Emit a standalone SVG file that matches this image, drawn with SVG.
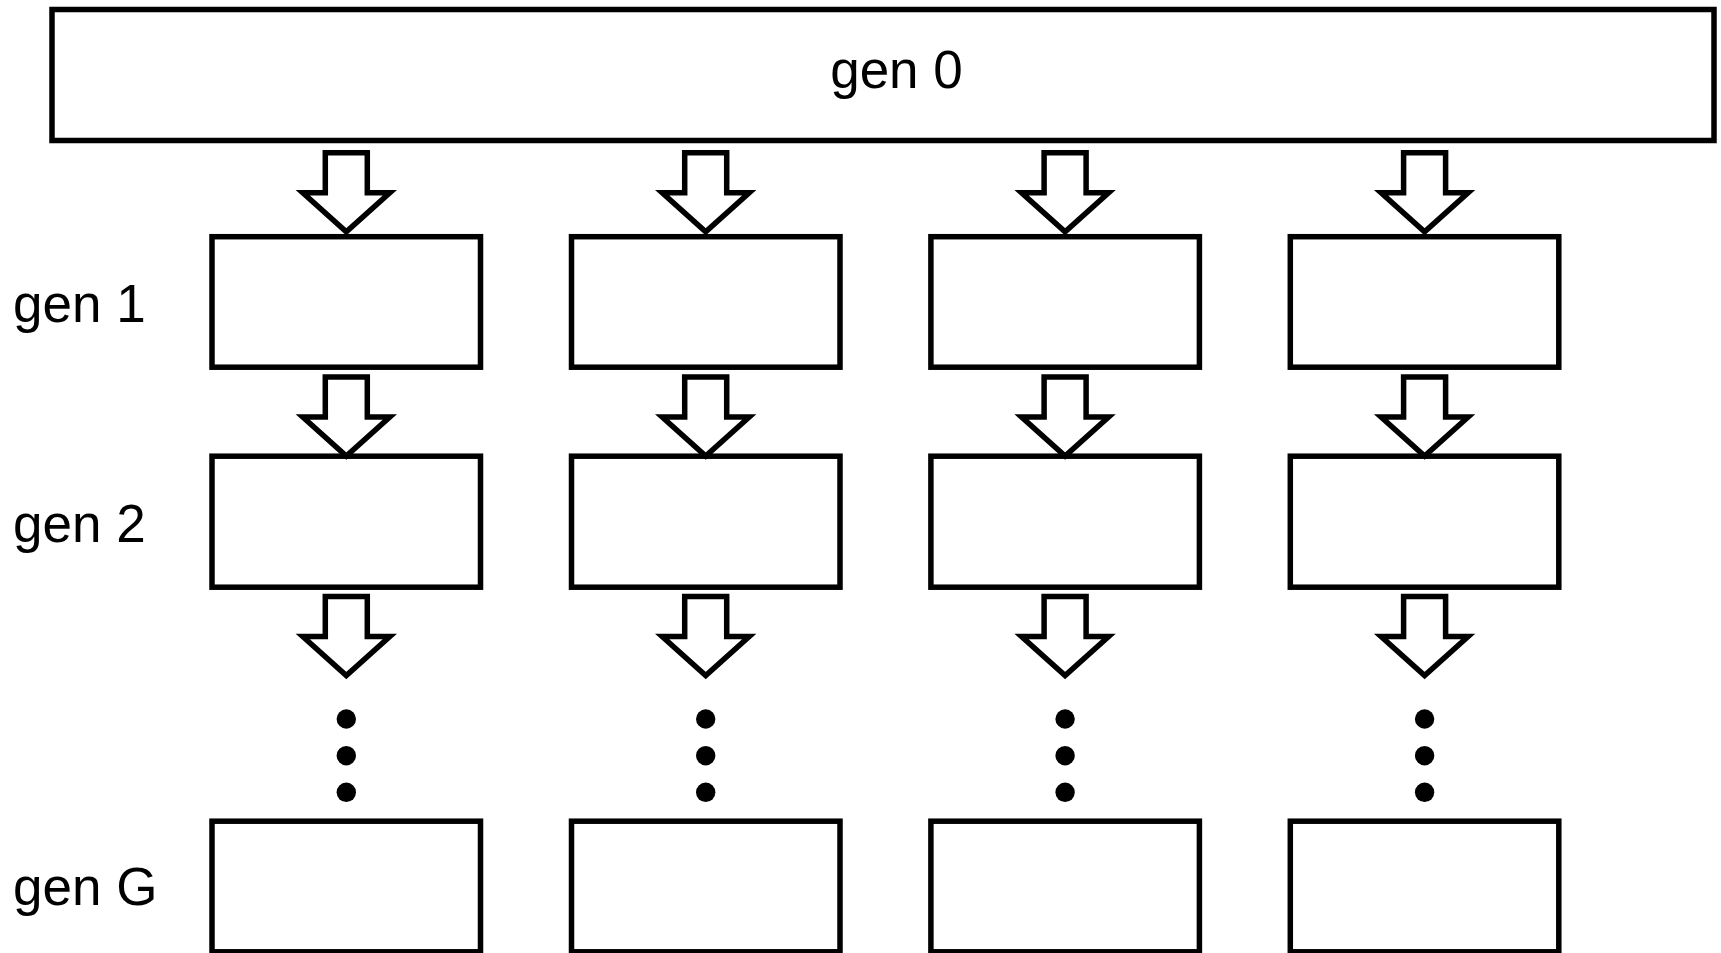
<svg xmlns="http://www.w3.org/2000/svg" width="1721" height="953" viewBox="0 0 1721 953">
<defs>
<style>
.box{fill:#fff;stroke:#000;stroke-width:5.5}
.arr{fill:#fff;stroke:#000;stroke-width:5.5;stroke-linejoin:miter;stroke-miterlimit:10}
.dot{fill:#000}
.lbl{font-family:"Liberation Sans",Arial,sans-serif;font-size:53px;fill:#000}
</style>
<path id="a" class="arr" d="M-21,0 L21,0 L21,40 L43.5,40 L0,79 L-43.5,40 L-21,40 Z"/>
<g id="dots"><circle class="dot" cx="0" cy="719" r="9.7"/><circle class="dot" cx="0" cy="755.7" r="9.7"/><circle class="dot" cx="0" cy="792.3" r="9.7"/></g>
</defs>
<rect width="1721" height="953" fill="#fff"/>
<g id="gen0"><rect class="box" x="52" y="9.5" width="1662" height="131"/><text class="lbl" x="896.5" y="88" text-anchor="middle">gen 0</text></g>
<g id="labels">
<text class="lbl" x="13" y="321.5">gen 1</text>
<text class="lbl" x="13" y="541.5">gen 2</text>
<text class="lbl" x="13" y="905">gen G</text>
</g>
<g id="nodes">
<g id="c1g1"><rect class="box" x="212" y="236.7" width="268.5" height="130.5"/></g>
<g id="c2g1"><rect class="box" x="571.5" y="236.7" width="268.5" height="130.5"/></g>
<g id="c3g1"><rect class="box" x="930.9" y="236.7" width="268.5" height="130.5"/></g>
<g id="c4g1"><rect class="box" x="1290.3" y="236.7" width="268.5" height="130.5"/></g>
<g id="c1g2"><rect class="box" x="212" y="456.2" width="268.5" height="131"/></g>
<g id="c2g2"><rect class="box" x="571.5" y="456.2" width="268.5" height="131"/></g>
<g id="c3g2"><rect class="box" x="930.9" y="456.2" width="268.5" height="131"/></g>
<g id="c4g2"><rect class="box" x="1290.3" y="456.2" width="268.5" height="131"/></g>
<g id="c1gG"><rect class="box" x="212" y="821.2" width="268.5" height="130.6"/></g>
<g id="c2gG"><rect class="box" x="571.5" y="821.2" width="268.5" height="130.6"/></g>
<g id="c3gG"><rect class="box" x="930.9" y="821.2" width="268.5" height="130.6"/></g>
<g id="c4gG"><rect class="box" x="1290.3" y="821.2" width="268.5" height="130.6"/></g>
</g>
<g id="connectors">
<use href="#a" x="346.3" y="152.8"/><use href="#a" x="705.7" y="152.8"/><use href="#a" x="1065.1" y="152.8"/><use href="#a" x="1424.6" y="152.8"/>
<use href="#a" x="346.3" y="377"/><use href="#a" x="705.7" y="377"/><use href="#a" x="1065.1" y="377"/><use href="#a" x="1424.6" y="377"/>
<use href="#a" x="346.3" y="596.5"/><use href="#a" x="705.7" y="596.5"/><use href="#a" x="1065.1" y="596.5"/><use href="#a" x="1424.6" y="596.5"/>
<use href="#dots" x="346.3"/><use href="#dots" x="705.7"/><use href="#dots" x="1065.1"/><use href="#dots" x="1424.6"/>
</g>
</svg>
